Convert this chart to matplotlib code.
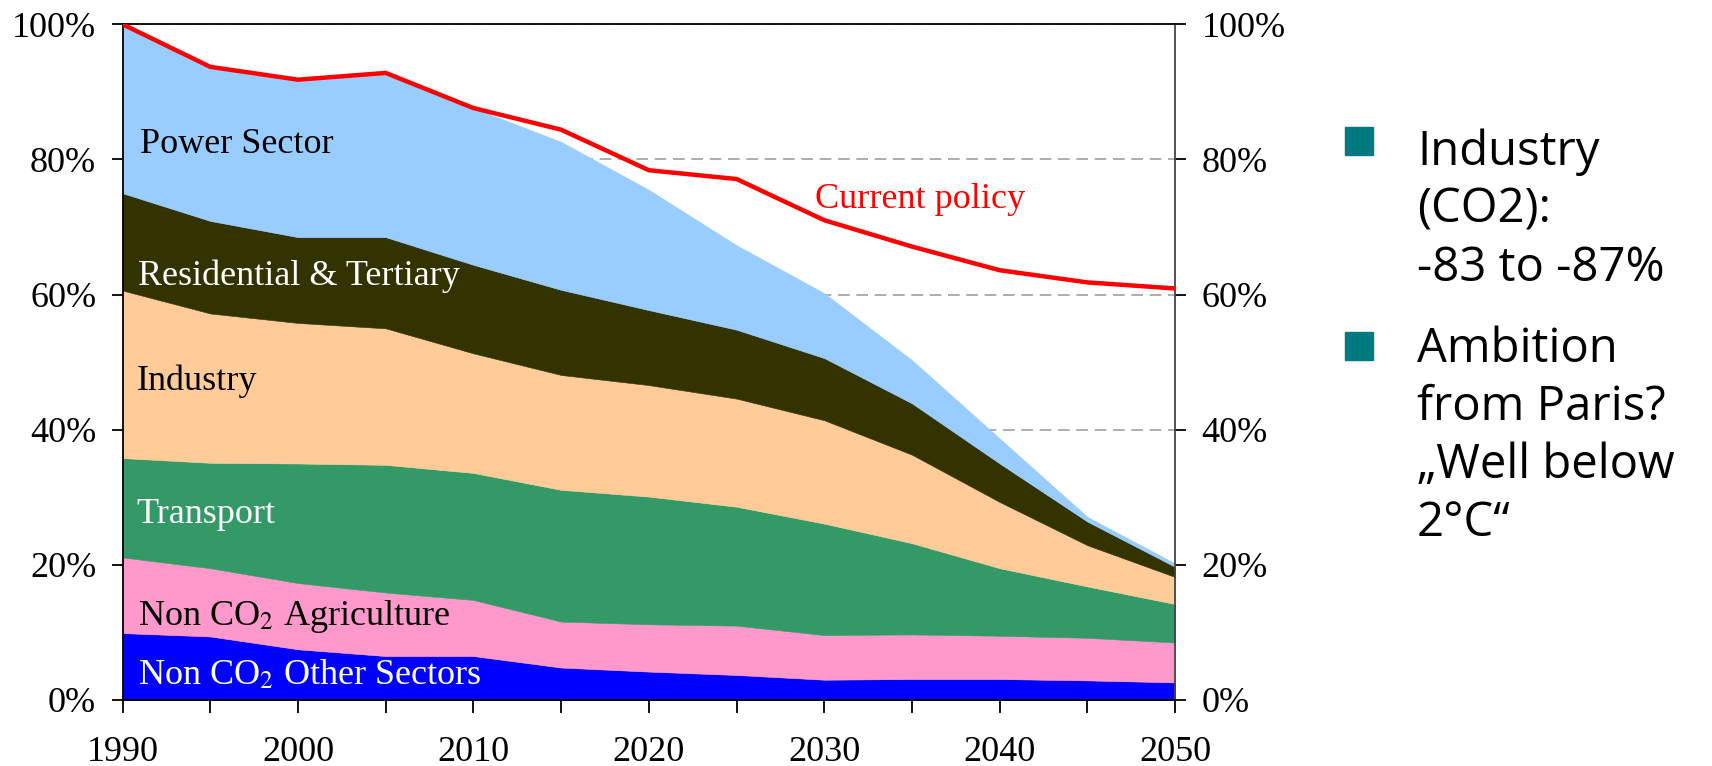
import matplotlib
matplotlib.use("Agg")
import matplotlib.pyplot as plt
from matplotlib.ticker import MultipleLocator, FuncFormatter

# share of 1990 emissions (%)
years = [1990, 1995, 2000, 2005, 2010, 2015, 2020, 2025, 2030, 2035, 2040, 2045, 2050]
other_sectors = [9.9, 9.4, 7.5, 6.5, 6.5, 4.8, 4.2, 3.7, 3.0, 3.1, 3.1, 2.9, 2.6]
agriculture = [11.2, 10.1, 9.8, 9.4, 8.3, 6.8, 7.0, 7.3, 6.6, 6.6, 6.4, 6.3, 5.9]
transport = [14.7, 15.6, 17.7, 18.9, 18.8, 19.5, 18.9, 17.6, 16.5, 13.5, 10.0, 7.6, 5.7]
industry = [24.8, 22.1, 20.8, 20.2, 17.7, 17.0, 16.5, 16.0, 15.3, 13.1, 9.8, 6.1, 4.0]
residential = [14.4, 13.7, 12.7, 13.5, 13.1, 12.6, 11.1, 10.2, 9.2, 7.6, 5.7, 3.5, 1.5]
power = [25.0, 22.8, 23.3, 24.3, 23.2, 21.9, 17.8, 12.5, 9.6, 6.4, 3.7, 0.7, 0.5]
current_policy = [100, 93.7, 91.8, 92.8, 87.6, 84.4, 78.4, 77.1, 71.0, 67.1, 63.6, 61.8, 60.9]

colors = ["#0000FF", "#FF99CC", "#339966", "#FFCC99", "#333300", "#99CCFF"]

plt.rcParams["font.family"] = ["Liberation Serif", "DejaVu Serif"]
plt.rcParams["mathtext.fontset"] = "stix"

fig = plt.figure(figsize=(17.12, 7.66), dpi=100)
ax = fig.add_axes([0.0716, 0.0862, 0.6148, 0.8821])

ax.set_axisbelow(True)
ax.yaxis.grid(True, color="#A0A0A0", linestyle=(0, (7, 4)), linewidth=1.2)

polys = ax.stackplot(years, other_sectors, agriculture, transport, industry,
                     residential, power, colors=colors, zorder=2)
for p in polys:
    p.set_edgecolor("face")
    p.set_linewidth(0.4)

ax.plot(years, current_policy, color="#FF0000", lw=3.2, zorder=4, solid_joinstyle="round")

ax.set_xlim(1990, 2050)
ax.set_ylim(0, 100)

ax.xaxis.set_major_locator(MultipleLocator(10))
ax.xaxis.set_minor_locator(MultipleLocator(5))
ax.yaxis.set_major_locator(MultipleLocator(20))
ax.yaxis.set_major_formatter(FuncFormatter(lambda v, p: f"{v:.0f}%"))

ax.yaxis.set_ticks_position("both")
ax.tick_params(axis="y", which="both", direction="out", length=8, width=1.3,
               labelsize=26, pad=11, labelright=True, colors="#000000")
ax.tick_params(axis="x", which="both", direction="out", length=9, width=1.3,
               labelsize=26, pad=17)

for side in ["left", "bottom", "top"]:
    ax.spines[side].set_color("#000000")
    ax.spines[side].set_linewidth(1.3)
ax.spines["right"].set_color("#444444")
ax.spines["right"].set_linewidth(1.3)

# sector labels inside the areas
fs = 26
ax.text(1991.0, 80.9, "Power Sector", fontsize=fs, color="black", va="baseline", zorder=5)
ax.text(1990.9, 61.4, "Residential & Tertiary", fontsize=fs, color="white", va="baseline", zorder=5)
ax.text(1990.8, 45.9, "Industry", fontsize=fs, color="black", va="baseline", zorder=5)
ax.text(1990.8, 26.2, "Transport", fontsize=fs, color="white", va="baseline", zorder=5)
ax.text(1990.9, 11.1, r"Non CO$_2$ Agriculture", fontsize=fs, color="black", va="baseline", zorder=5)
ax.text(1990.9, 2.4, r"Non CO$_2$ Other Sectors", fontsize=fs, color="white", va="baseline", zorder=5)
ax.text(2029.5, 72.8, "Current policy", fontsize=fs, color="#FF0000", va="baseline", zorder=5)

# bullet text on the right
W, H = 1712, 766
teal = "#007A80"
bullets = [
    (141, ["Industry", "(CO2):", "-83 to -87%"], 165),
    (346, ["Ambition", "from Paris?", "\u201eWell below", "2\u00b0C\u201c"], 362),
]
for sq_y, lines, base_y in bullets:
    fig.patches.append(plt.Rectangle(((1359 - 14) / W, 1 - (sq_y + 14) / H), 28 / W, 28 / H,
                                     transform=fig.transFigure, color=teal, figure=fig))
    for i, line in enumerate(lines):
        fig.text(1417 / W, 1 - (base_y + 58 * i) / H, line, fontsize=34,
                 family=["Open Sans", "DejaVu Sans"], va="baseline", color="black")

fig.savefig("out.png", dpi=100)
